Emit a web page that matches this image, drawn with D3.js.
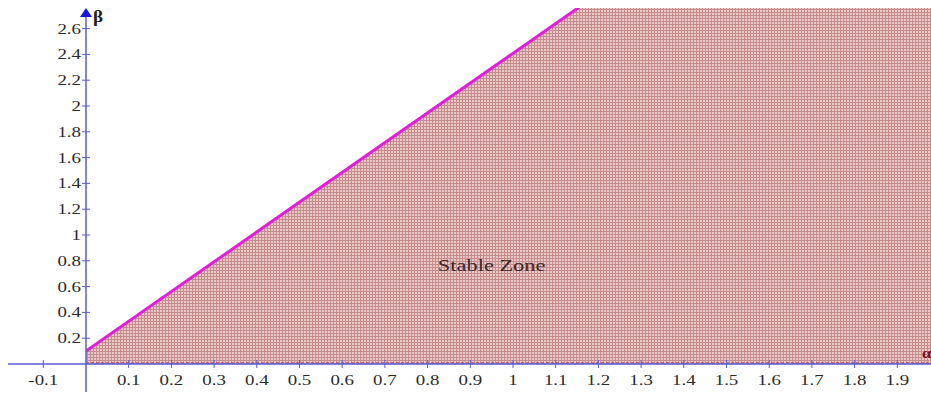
<!DOCTYPE html>
<html>
<head>
<meta charset="utf-8">
<script src="https://cdn.jsdelivr.net/npm/d3@7"></script>
<style>
  body { margin: 0; background: #fff; }
  svg { display: block; font-family: "Liberation Serif", "Times New Roman", serif; }
</style>
</head>
<body>
<svg id="chart" width="931" height="393"></svg>
<script>
// tick values
const xTicks = [-0.1, 0.1, 0.2, 0.3, 0.4, 0.5, 0.6, 0.7, 0.8, 0.9, 1, 1.1, 1.2, 1.3, 1.4, 1.5, 1.6, 1.7, 1.8, 1.9];
const yTicks = [0.2, 0.4, 0.6, 0.8, 1, 1.2, 1.4, 1.6, 1.8, 2, 2.2, 2.4, 2.6];

// stability boundary (alpha, beta)
const boundaryAlpha = [0, 1.2];
const boundaryBeta = [0.1, 2.87];

// stable region polygon, clipped to plot area
const zoneAlpha = [0, 0, 1.2, 2.2, 2.2];
const zoneBeta = [0, 0.1, 2.87, 2.87, 0];

const svg = d3.select("#chart");
const W = 931, H = 393;

const x = d3.scaleLinear().domain([0, 1]).range([86, 513]);
const y = d3.scaleLinear().domain([0, 1]).range([364, 235]);

const defs = svg.append("defs");
defs.append("clipPath").attr("id", "plotClip")
    .append("rect").attr("x", 86).attr("y", 8).attr("width", W - 86).attr("height", 364 - 8);

// cross hatch pattern
const pat = defs.append("pattern")
    .attr("id", "hatch")
    .attr("patternUnits", "userSpaceOnUse")
    .attr("width", 3).attr("height", 3);
pat.append("rect").attr("width", 3).attr("height", 3).attr("fill", "#ecc9c9");
pat.append("rect").attr("width", 3).attr("height", 1).attr("fill", "#c58c8c");
pat.append("rect").attr("width", 1).attr("height", 3).attr("fill", "#c58c8c");

const plot = svg.append("g").attr("clip-path", "url(#plotClip)");

const zone = zoneAlpha.map((a, i) => [x(a), y(zoneBeta[i])]);
plot.append("path")
    .attr("d", d3.line()(zone) + "Z")
    .attr("fill", "url(#hatch)");

// dotted lower boundary along the x axis
plot.append("line")
    .attr("x1", x(0)).attr("x2", W)
    .attr("y1", y(0) - 1).attr("y2", y(0) - 1)
    .attr("stroke", "#c0507a")
    .attr("stroke-width", 1.5)
    .attr("stroke-dasharray", "3,2");

// axes
svg.append("line")
    .attr("x1", 8).attr("x2", W).attr("y1", y(0)).attr("y2", y(0))
    .attr("stroke", "#5b5bd0").attr("stroke-width", 1.5);
svg.append("line")
    .attr("x1", x(0)).attr("x2", x(0)).attr("y1", 14).attr("y2", 392)
    .attr("stroke", "#5b5bd0").attr("stroke-width", 1.5);

// arrow on y axis
svg.append("path")
    .attr("d", `M${x(0) - 6},17 L${x(0)},8 L${x(0) + 6},17 Z`)
    .attr("fill", "#1515dd");

// boundary line
const bLine = boundaryAlpha.map((a, i) => [x(a), y(boundaryBeta[i])]);
plot.append("path")
    .attr("d", d3.line()(bLine))
    .attr("stroke", "#e020d8")
    .attr("stroke-width", 3)
    .attr("fill", "none");

// x ticks
const xt = svg.append("g");
xTicks.forEach(v => {
    xt.append("line")
        .attr("x1", x(v)).attr("x2", x(v))
        .attr("y1", y(0) - 4).attr("y2", y(0) + 4)
        .attr("stroke", "#5b5bd0").attr("stroke-width", 1);
    xt.append("text")
        .attr("transform", `translate(${x(v)},${y(0) + 21}) scale(1.35,1)`)
        .attr("text-anchor", "middle")
        .attr("font-size", 14)
        .attr("fill", "#2a2a2a")
        .text(v);
});

// y ticks
const yt = svg.append("g");
yTicks.forEach(v => {
    yt.append("line")
        .attr("x1", x(0) - 4).attr("x2", x(0) + 4)
        .attr("y1", y(v)).attr("y2", y(v))
        .attr("stroke", "#5b5bd0").attr("stroke-width", 1);
    yt.append("text")
        .attr("transform", `translate(${x(0) - 5},${y(v) + 5}) scale(1.35,1)`)
        .attr("text-anchor", "end")
        .attr("font-size", 14)
        .attr("fill", "#2a2a2a")
        .text(v);
});

// axis names
svg.append("text")
    .attr("transform", `translate(${x(0) + 7},22) scale(1.2,1)`)
    .attr("font-size", 16).attr("font-weight", "bold")
    .attr("fill", "#222")
    .text("β");
svg.append("text")
    .attr("transform", `translate(${W - 9},358) scale(1.2,1)`)
    .attr("font-size", 14).attr("font-weight", "bold")
    .attr("fill", "#7a1020")
    .text("α");

// zone label
svg.append("text")
    .attr("transform", `translate(${x(0.95)},271) scale(1.4,1)`)
    .attr("text-anchor", "middle")
    .attr("font-size", 16)
    .attr("fill", "#3a2a2a")
    .text("Stable Zone");
</script>
</body>
</html>
